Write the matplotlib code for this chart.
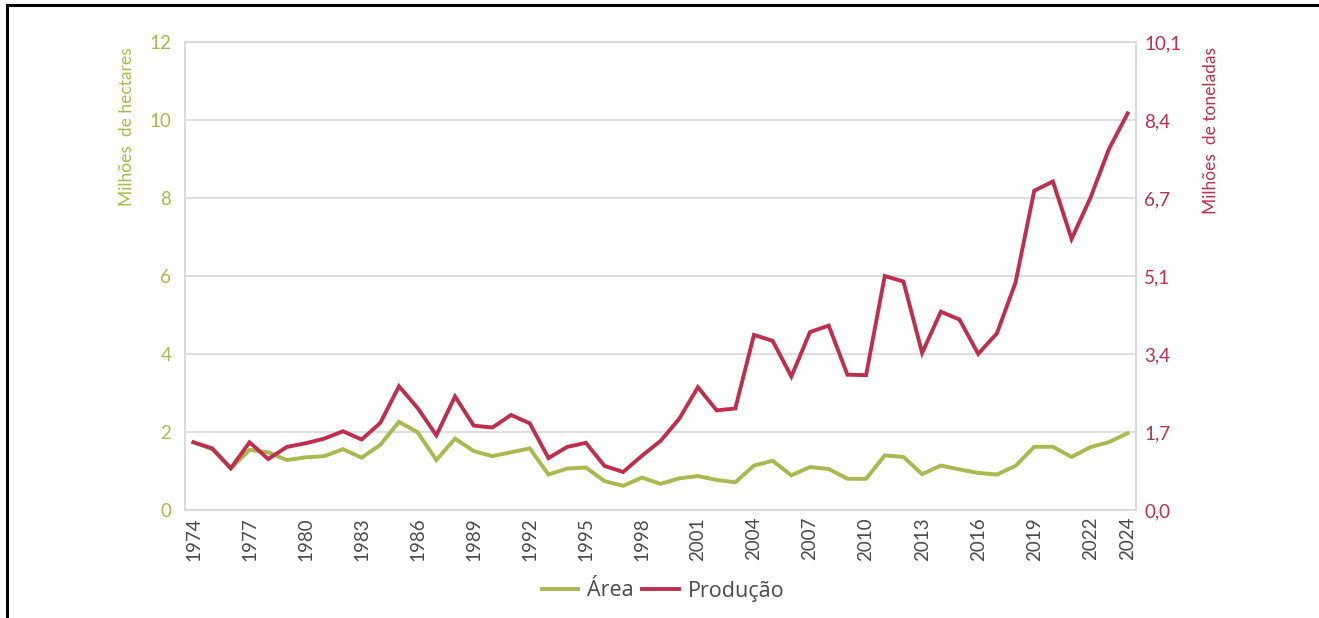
import matplotlib
matplotlib.use("Agg")
import matplotlib.pyplot as plt
from matplotlib.lines import Line2D

years = list(range(1974, 2025))
area = [1.74, 1.56, 1.07, 1.54, 1.48, 1.28, 1.35, 1.38, 1.56, 1.34,
        1.67, 2.26, 1.99, 1.28, 1.83, 1.51, 1.38, 1.48, 1.58, 0.91,
        1.06, 1.09, 0.74, 0.62, 0.83, 0.67, 0.81, 0.87, 0.77, 0.71,
        1.14, 1.26, 0.89, 1.10, 1.05, 0.80, 0.80, 1.40, 1.36, 0.92,
        1.14, 1.04, 0.95, 0.91, 1.13, 1.62, 1.62, 1.36, 1.61, 1.74,
        1.97]
producao = [1.46, 1.33, 0.90, 1.46, 1.10, 1.36, 1.44, 1.54, 1.70, 1.52,
            1.88, 2.67, 2.20, 1.61, 2.45, 1.82, 1.78, 2.05, 1.87, 1.12,
            1.36, 1.45, 0.95, 0.82, 1.17, 1.49, 1.97, 2.65, 2.15, 2.19,
            3.78, 3.65, 2.88, 3.84, 3.98, 2.92, 2.91, 5.05, 4.93, 3.39,
            4.28, 4.11, 3.37, 3.81, 4.91, 6.89, 7.09, 5.85, 6.73, 7.79,
            8.56]
x_ticks = list(range(1974, 2023, 3)) + [2024]
left_ticks = [0, 2, 4, 6, 8, 10, 12]
right_tick_labels = ["0,0", "1,7", "3,4", "5,1", "6,7", "8,4", "10,1"]

GREEN = "#A9B94E"
RED = "#BF2F4D"
GRID = "#D9D9D9"
TXT = "#4A4A4A"

plt.rcParams['font.family'] = ['Lato', 'DejaVu Sans']

fig = plt.figure(figsize=(13.19, 6.18), dpi=100)
ax = fig.add_axes([0.1403, 0.1748, 0.7210, 0.7572])
ax2 = ax.twinx()

ax.plot(years, area, color=GREEN, lw=2.8, solid_joinstyle='miter', zorder=3)
ax2.plot(years, producao, color=RED, lw=2.8, solid_joinstyle='miter', zorder=3)

ax.set_xlim(1973.55, 2024.45)
ax.set_ylim(0, 12)
ax2.set_ylim(0, 12 * 10.1 / 12)

ax.set_yticks(left_ticks)
ax.set_yticklabels([str(t) for t in left_ticks], color=GREEN, fontsize=13.5)
ax2.set_yticks([t * 10.1 / 12 for t in left_ticks])
ax2.set_yticklabels(right_tick_labels, color=RED, fontsize=13.5)
ax.set_xticks(x_ticks)
ax.set_xticklabels([str(y) for y in x_ticks], rotation=90, color=TXT, fontsize=13.5)

ax.tick_params(axis='y', length=0, pad=10)
ax.tick_params(axis='x', length=0, pad=5)
ax2.tick_params(axis='y', length=0, pad=6)

ax.grid(axis='y', color=GRID, lw=1.2)
ax.set_axisbelow(True)
for a in (ax, ax2):
    for s in a.spines.values():
        s.set_color(GRID)
        s.set_linewidth(1.2)

ax.set_ylabel("Milhões  de hectares", color=GREEN, fontsize=12.5)
ax.yaxis.set_label_coords(-0.0526, 0.82)
ax2.set_ylabel("Milhões  de toneladas", color=RED, fontsize=12.5)
ax2.yaxis.set_label_coords(1.0705, 0.81)

handles = [Line2D([0], [0], color=GREEN, lw=2.8), Line2D([0], [0], color=RED, lw=2.8)]
fig.legend(handles, ["Área", "Produção"], loc='center', bbox_to_anchor=(663 / 1319, 1 - 591 / 618),
           ncol=2, frameon=False, handlelength=1.7, handletextpad=0.4,
           columnspacing=0.4, labelcolor=TXT, prop={'family': ['Open Sans', 'DejaVu Sans'], 'size': 15.5})

# outer black frame fragments (top and left)
fig.add_artist(Line2D([7 / 1319, 1], [1 - 5 / 618, 1 - 5 / 618], color='black', lw=2.2, transform=fig.transFigure))
fig.add_artist(Line2D([7 / 1319, 7 / 1319], [0, 1 - 5 / 618], color='black', lw=2.2, transform=fig.transFigure))

fig.savefig("out.png", dpi=100)
